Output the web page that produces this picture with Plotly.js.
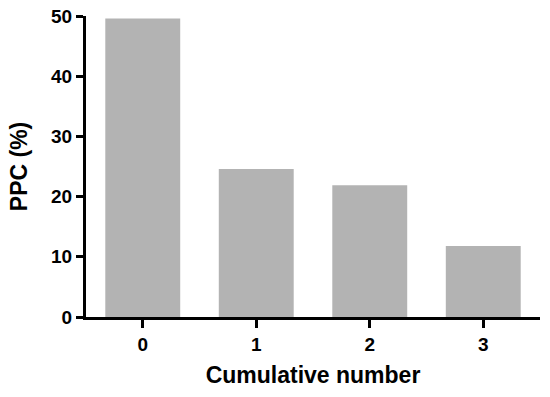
<!DOCTYPE html>
<html>
<head>
<meta charset="utf-8">
<script src="https://cdn.plot.ly/plotly-3.0.1.min.js"></script>
<style>html,body{margin:0;padding:0;background:#fff;}#chart{width:550px;height:397px;}</style>
</head>
<body>
<div id="chart"></div>
<script>
const categories = [0, 1, 2, 3];
const tickLabels = ["0", "1", "2", "3"];
const ppcValues = [49.6, 24.6, 21.9, 11.8];
const yTicks = [0, 10, 20, 30, 40, 50];

const font = {family: "Liberation Sans, Arial, sans-serif", color: "#000"};

Plotly.newPlot("chart", [{
  type: "bar",
  x: categories,
  y: ppcValues,
  width: 0.66,
  marker: {color: "#b3b3b3", line: {width: 0}},
  hoverinfo: "none"
}], {
  width: 550, height: 397,
  margin: {l: 86, r: 10, t: 16, b: 80},
  paper_bgcolor: "#fff", plot_bgcolor: "#fff",
  showlegend: false,
  xaxis: {
    range: [-0.5, 3.5],
    tickvals: categories, ticktext: tickLabels,
    showline: true, linecolor: "#000", linewidth: 3,
    ticks: "outside", ticklen: 8, tickwidth: 3, tickcolor: "#000",
    showgrid: false, zeroline: false,
    tickfont: Object.assign({size: 19, weight: "bold"}, font),
    title: {text: "<b>Cumulative number</b>", font: Object.assign({size: 23}, font), standoff: 14}
  },
  yaxis: {
    range: [0, 50],
    tickvals: yTicks,
    showline: true, linecolor: "#000", linewidth: 3,
    ticks: "outside", ticklen: 7, tickwidth: 3, tickcolor: "#000",
    showgrid: false, zeroline: false,
    tickfont: Object.assign({size: 19, weight: "bold"}, font),
    title: {text: "<b>PPC (%)</b>", font: Object.assign({size: 23}, font), standoff: 18}
  }
}, {staticPlot: true});
</script>
</body>
</html>
